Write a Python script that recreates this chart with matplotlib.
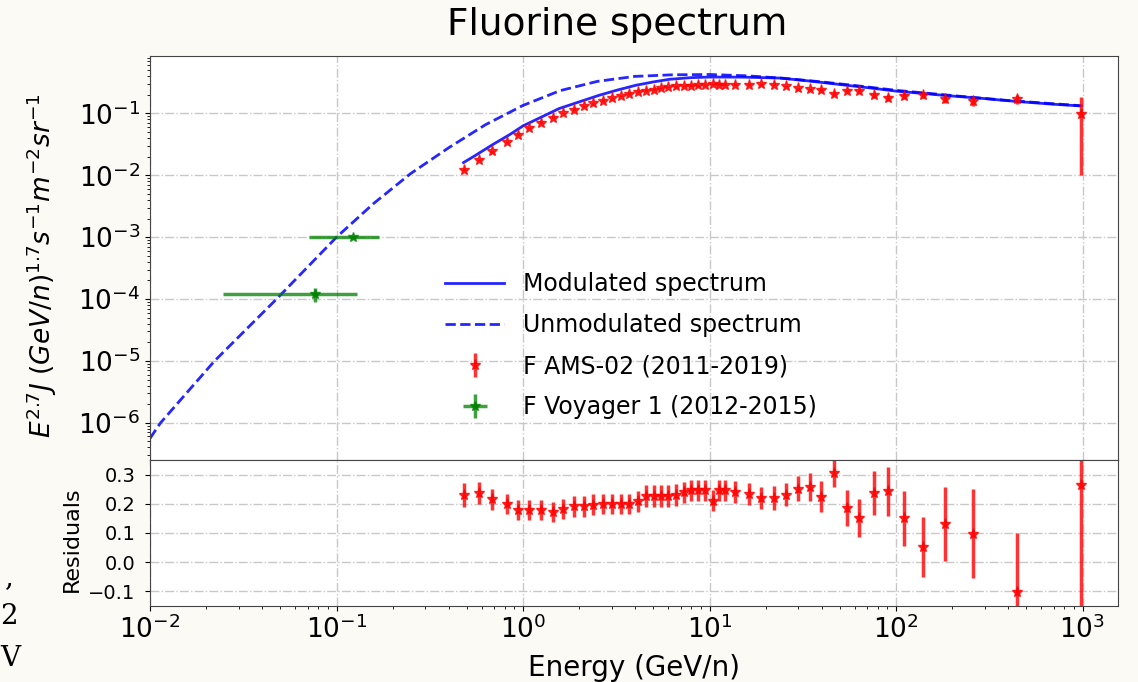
import matplotlib.pyplot as plt
import numpy as np

# AMS-02 fluorine data (kinetic energy per nucleon, GeV/n)
ams_E = [0.482, 0.580, 0.679, 0.817, 0.940, 1.077, 1.255, 1.443, 1.648, 1.888,
         2.128, 2.38, 2.69, 3.00, 3.35, 3.72, 4.15, 4.56, 5.02, 5.50,
         6.02, 6.62, 7.34, 7.97, 8.65, 9.48, 10.4, 11.3, 12.1, 13.7,
         16.2, 19.0, 22.1, 25.6, 29.8, 34.6, 39.8, 46.6, 54.3, 63.5,
         75.9, 90.2, 111, 139, 182, 260, 446, 980]
ams_flux = [0.0124, 0.0178, 0.0245, 0.0345, 0.0456, 0.0580, 0.0715, 0.0860, 0.101, 0.116,
            0.131, 0.146, 0.162, 0.180, 0.193, 0.210, 0.226, 0.233, 0.244, 0.257,
            0.268, 0.274, 0.280, 0.282, 0.286, 0.290, 0.300, 0.293, 0.292, 0.293,
            0.293, 0.296, 0.293, 0.278, 0.254, 0.247, 0.238, 0.209, 0.232, 0.230,
            0.196, 0.180, 0.190, 0.200, 0.169, 0.157, 0.171, 0.097]
ams_flux_err = [0.00066, 0.00087, 0.0011, 0.0015, 0.0020, 0.0025, 0.0031, 0.0037, 0.0044, 0.0051,
                0.0057, 0.0064, 0.0072, 0.0078, 0.0086, 0.0093, 0.0107, 0.0113, 0.0119, 0.0125,
                0.0131, 0.0134, 0.0137, 0.0138, 0.0140, 0.0142, 0.0144, 0.0144, 0.0143, 0.0142,
                0.0146, 0.0144, 0.0150, 0.0146, 0.0153, 0.0156, 0.0167, 0.0151, 0.0174, 0.0173,
                0.0191, 0.0202, 0.0210, 0.0212, 0.0236, 0.0261, 0.0311, 0.087]
ams_res = [0.229, 0.237, 0.216, 0.200, 0.179, 0.179, 0.179, 0.171, 0.182, 0.191,
           0.191, 0.197, 0.200, 0.200, 0.200, 0.200, 0.208, 0.226, 0.226, 0.226,
           0.226, 0.231, 0.239, 0.246, 0.246, 0.246, 0.211, 0.246, 0.246, 0.240,
           0.234, 0.220, 0.220, 0.231, 0.252, 0.257, 0.225, 0.306, 0.185, 0.151,
           0.237, 0.243, 0.151, 0.053, 0.131, 0.097, -0.102, 0.266]
ams_res_err = [0.041, 0.038, 0.036, 0.035, 0.035, 0.035, 0.035, 0.035, 0.035, 0.035,
               0.035, 0.035, 0.035, 0.035, 0.035, 0.035, 0.037, 0.037, 0.037, 0.037,
               0.037, 0.037, 0.037, 0.037, 0.037, 0.037, 0.037, 0.037, 0.037, 0.037,
               0.038, 0.038, 0.040, 0.040, 0.044, 0.047, 0.053, 0.050, 0.061, 0.064,
               0.075, 0.084, 0.094, 0.103, 0.126, 0.152, 0.203, 0.66]

# Voyager 1 data
voy_E = [0.077, 0.122]
voy_flux = [1.2e-4, 1.0e-3]
voy_E_lo = [0.0525, 0.051]
voy_E_hi = [0.052, 0.048]
voy_flux_err = [0.3e-4, 0.05e-3]

# model curves
mod_E = [0.48, 0.55, 0.684, 0.85, 1.0, 1.25, 1.56, 2.0, 2.56, 3.2, 4.03, 5.0, 6.1,
         8.0, 10, 15, 23.8, 35, 54.3, 75, 100, 139, 186, 300, 427, 700, 960]
mod_flux = [0.0161, 0.0206, 0.0311, 0.0457, 0.063, 0.087, 0.120, 0.154, 0.197, 0.239,
            0.286, 0.324, 0.357, 0.380, 0.388, 0.387, 0.374, 0.333, 0.286, 0.256,
            0.230, 0.211, 0.195, 0.174, 0.158, 0.141, 0.133]
unmod_E = [0.01, 0.0114, 0.0222, 0.0477, 0.1, 0.158, 0.25, 0.40, 0.63, 1.0, 1.58,
           2.51, 3.98, 6.3, 10, 15.8, 25, 40, 63, 100, 200, 400, 1000]
unmod_flux = [5.6e-7, 1e-6, 1e-5, 1e-4, 1e-3, 3.5e-3, 0.0107, 0.028, 0.066, 0.135, 0.234,
              0.331, 0.398, 0.422, 0.427, 0.407, 0.371, 0.324, 0.279, 0.237, 0.195, 0.162, 0.133]

flux_ticks = [1e-6, 1e-5, 1e-4, 1e-3, 1e-2, 1e-1]
res_ticks = [-0.1, 0.0, 0.1, 0.2, 0.3]

bg = '#fcfaf5'
grid_kw = dict(linestyle='-.', color='#c8c8c8', linewidth=1)

fig = plt.figure(figsize=(11.38, 6.82), dpi=100, facecolor=bg)
ax1 = fig.add_axes([150/1138, 1-460/682, 968/1138, 404/682])
ax2 = fig.add_axes([150/1138, 1-606/682, 968/1138, 146/682], sharex=ax1)

l1, = ax1.plot(mod_E, mod_flux, 'b-', lw=2, alpha=0.85, label='Modulated spectrum')
l2, = ax1.plot(unmod_E, unmod_flux, 'b--', lw=2, alpha=0.85, label='Unmodulated spectrum')
e1 = ax1.errorbar(ams_E, ams_flux, yerr=ams_flux_err, fmt='*', color='red', ms=8,
                  ecolor='red', elinewidth=2.5, alpha=0.8, label='F AMS-02 (2011-2019)')
e2 = ax1.errorbar(voy_E, voy_flux, xerr=[voy_E_lo, voy_E_hi], yerr=voy_flux_err, fmt='*',
                  color='green', ms=7, elinewidth=2.5, alpha=0.75, label='F Voyager 1 (2012-2015)')

ax1.set_xscale('log')
ax1.set_yscale('log')
ax1.set_xlim(1e-2, 1550)
ax1.set_yticks(flux_ticks)
ax1.set_ylim(2.5e-7, 0.85)
fig.text(617/1138, 1-25/682, 'Fluorine spectrum', fontsize=27, ha='center', va='center')
ax1.set_ylabel(r'$E^{2.7}J\ (GeV/n)^{1.7}s^{-1}m^{-2}sr^{-1}$', fontsize=19)
ax1.yaxis.set_label_coords(-0.094, 0.48)
ax1.tick_params(labelsize=19)
ax1.tick_params(axis='x', labelbottom=False)
ax1.grid(True, which='major', **grid_kw)
ax1.legend(handles=[l1, l2, e1, e2], loc='upper left', bbox_to_anchor=(424/1138, 1-251/682),
           bbox_transform=fig.transFigure, frameon=False, fontsize=17,
           handlelength=2.5, labelspacing=0.72, handletextpad=0.8)

ax2.errorbar(ams_E, ams_res, yerr=ams_res_err, fmt='*', color='red', ms=8,
             ecolor='red', elinewidth=2.5, alpha=0.8)
ax2.set_ylim(-0.15, 0.35)
ax2.set_yticks(res_ticks)
ax2.set_xlabel('Energy (GeV/n)', fontsize=20)
ax2.xaxis.set_label_coords(0.5, -0.33)
ax2.set_ylabel('Residuals', fontsize=16)
ax2.yaxis.set_label_coords(-0.07, 0.46)
ax2.tick_params(axis='y', labelsize=14, pad=7)
ax2.tick_params(axis='x', labelsize=19)
ax2.grid(True, which='major', **grid_kw)

for ax in (ax1, ax2):
    for s in ax.spines.values():
        s.set_color('#444444')

# leftovers from the slide behind the plot
fig.text(0.004, 1-578/682, ',', fontsize=20, family='DejaVu Serif', va='center')
fig.text(0.0, 1-617/682, '2', fontsize=20, family='DejaVu Serif', va='center')
fig.text(0.0, 1-658/682, 'V', fontsize=20, family='DejaVu Serif', va='center')

fig.savefig('out.png', dpi=100, facecolor=bg)
